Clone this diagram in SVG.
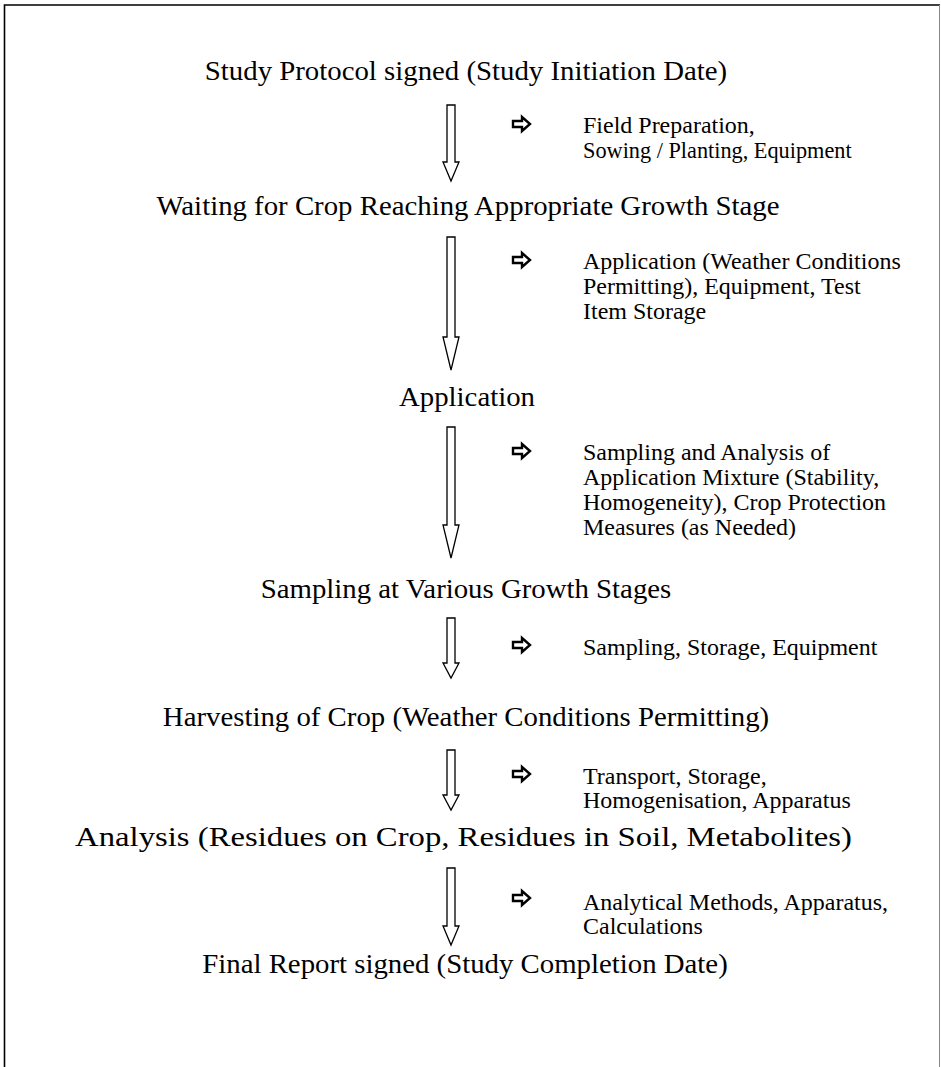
<svg xmlns="http://www.w3.org/2000/svg" xmlns:xlink="http://www.w3.org/1999/xlink" width="941" height="1067" viewBox="0 0 941 1067">
<style>
.main{font-family:"Liberation Serif","Times New Roman",serif;font-size:27px;fill:#000;text-anchor:middle}
.side{font-family:"Liberation Serif","Times New Roman",serif;font-size:22.5px;fill:#000}
.big{fill:#fff;stroke:#000;stroke-width:1.3;stroke-linejoin:miter}
.small{fill:#fff;stroke:#000;stroke-width:2.4;stroke-linejoin:miter}
</style>
<defs>
<path id="sa" d="M-8,-3 L1,-3 L1,-7 L9,0 L1,7 L1,3 L-8,3 Z" class="small"/>
</defs>
<rect width="941" height="1067" fill="#fff"/>
<g id="frame" fill="none">
<path d="M4.5,1067 V5 H940" stroke="#000" stroke-width="1.6"/>
<path d="M939.5,5 V1067" stroke="#888" stroke-width="1"/>
</g>
<g id="connectors">
<path class="big" d="M447,105 H455 V162 H459 L451,181 L443,162 H447 Z"/>
<path class="big" d="M447,237 H455 V337 H459 L451,370 L443,337 H447 Z"/>
<path class="big" d="M447,427 H455 V525 H459 L451,558 L443,525 H447 Z"/>
<path class="big" d="M447,618 H455 V663 H459 L451,678 L443,663 H447 Z"/>
<path class="big" d="M447,750 H455 V795 H459 L451,810 L443,795 H447 Z"/>
<path class="big" d="M447,868 H455 V926 H459 L451,945 L443,926 H447 Z"/>
</g>
<g id="step1" transform="translate(466,0) scale(1.067,1)"><text class="main" x="0" y="80">Study Protocol signed (Study Initiation Date)</text></g>
<g id="step2" transform="translate(468,0) scale(1.067,1)"><text class="main" x="0" y="215">Waiting for Crop Reaching Appropriate Growth Stage</text></g>
<g id="step3" transform="translate(467,0) scale(1.067,1)"><text class="main" x="0" y="406">Application</text></g>
<g id="step4" transform="translate(466,0) scale(1.067,1)"><text class="main" x="0" y="598">Sampling at Various Growth Stages</text></g>
<g id="step5" transform="translate(466,0) scale(1.067,1)"><text class="main" x="0" y="726">Harvesting of Crop (Weather Conditions Permitting)</text></g>
<g id="step6" transform="translate(463.5,0) scale(1.067,1)"><text class="main" x="0" y="846" textLength="728" lengthAdjust="spacingAndGlyphs">Analysis (Residues on Crop, Residues in Soil, Metabolites)</text></g>
<g id="step7" transform="translate(465,0) scale(1.067,1)"><text class="main" x="0" y="973">Final Report signed (Study Completion Date)</text></g>
<g id="note1">
<use xlink:href="#sa" x="521" y="124"/>
<g transform="translate(583,0) scale(1.066,1)"><text class="side" x="0" y="133">Field Preparation,</text><text class="side" x="0" y="158" textLength="252" lengthAdjust="spacingAndGlyphs">Sowing / Planting, Equipment</text></g>
</g>
<g id="note2">
<use xlink:href="#sa" x="521" y="260"/>
<g transform="translate(583,0) scale(1.066,1)"><text class="side" x="0" y="269">Application (Weather Conditions</text><text class="side" x="0" y="294">Permitting), Equipment, Test</text><text class="side" x="0" y="319">Item Storage</text></g>
</g>
<g id="note3">
<use xlink:href="#sa" x="521" y="451"/>
<g transform="translate(583,0) scale(1.066,1)"><text class="side" x="0" y="460">Sampling and Analysis of</text><text class="side" x="0" y="485">Application Mixture (Stability,</text><text class="side" x="0" y="510">Homogeneity), Crop Protection</text><text class="side" x="0" y="535">Measures (as Needed)</text></g>
</g>
<g id="note4">
<use xlink:href="#sa" x="521" y="645"/>
<g transform="translate(583,0) scale(1.066,1)"><text class="side" x="0" y="655">Sampling, Storage, Equipment</text></g>
</g>
<g id="note5">
<use xlink:href="#sa" x="521" y="774"/>
<g transform="translate(583,0) scale(1.066,1)"><text class="side" x="0" y="784">Transport, Storage,</text><text class="side" x="0" y="808">Homogenisation, Apparatus</text></g>
</g>
<g id="note6">
<use xlink:href="#sa" x="521" y="898"/>
<g transform="translate(583,0) scale(1.066,1)"><text class="side" x="0" y="910">Analytical Methods, Apparatus,</text><text class="side" x="0" y="934">Calculations</text></g>
</g>
</svg>
